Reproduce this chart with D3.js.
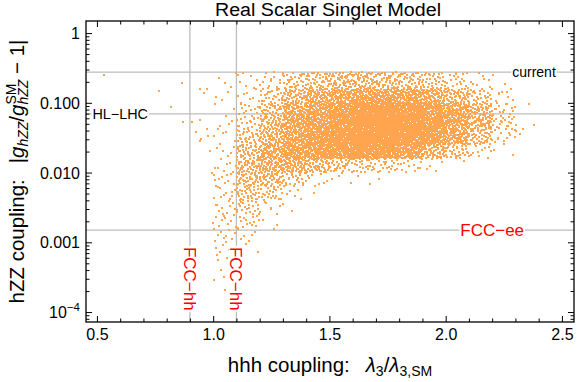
<!DOCTYPE html>
<html><head><meta charset="utf-8">
<script src="https://cdn.jsdelivr.net/npm/d3@7"></script>
<style>
html,body{margin:0;padding:0;background:#fff;}
svg{display:block;font-family:"Liberation Sans",Arial,Helvetica,sans-serif;}
</style></head>
<body>
<svg id="chart" width="581" height="382"></svg>
<script>
// ---------- data ----------
const xTicks = [0.5, 1.0, 1.5, 2.0, 2.5];
const xTickLabels = ["0.5", "1.0", "1.5", "2.0", "2.5"];
const yTicks = [1, 0.1, 0.01, 0.001, 0.0001];
const yTickLabels = ["1", "0.100", "0.010", "0.001", "10^-4"];

const refLinesY = [0.276, 0.0695, 0.0015];       // current, HL-LHC, FCC-ee
const refLinesYNames = ["current", "HL\u2212LHC", "FCC\u2212ee"];
const refLinesX = [0.9, 1.1];                    // FCC-hh
const refLinesXNames = ["FCC\u2212hh", "FCC\u2212hh"];

// density of scan points
// columns: lambda3 bins [start, start+0.1)
const colStart = [1.0, 1.1, 1.2, 1.3, 1.4, 1.5, 1.6, 1.7, 1.8, 1.9, 2.0, 2.1, 2.2, 2.3];
// rows (top -> bottom): log10 |g/gSM - 1| bins
const rowTop =    [-0.56, -0.8, -1.0, -1.2, -1.4, -1.6, -1.8, -2.0, -2.2, -2.4, -2.6, -2.8, -3.0, -3.2, -3.4, -3.6];
const rowBottom = [-0.8, -1.0, -1.2, -1.4, -1.6, -1.8, -2.0, -2.2, -2.4, -2.6, -2.8, -3.0, -3.2, -3.4, -3.6, -3.8];
const counts = [
  [3,3,3,4,5,5,8,10,10,10,10,10,7,5,3,1],
  [7,8,12,20,30,40,45,40,32,22,14,6,2,1,0,0],
  [15,24,35,50,60,70,65,45,22,8,2,1,0,0,0,0],
  [30,48,70,85,95,100,70,25,5,1,0,0,0,0,0,0],
  [42,72,95,115,125,120,50,8,1,0,0,0,0,0,0,0],
  [52,90,125,150,160,140,30,3,0,0,0,0,0,0,0,0],
  [52,100,150,190,200,150,25,2,0,0,0,0,0,0,0,0],
  [48,100,150,200,200,140,20,1,0,0,0,0,0,0,0,0],
  [40,90,140,175,165,105,12,0,0,0,0,0,0,0,0,0],
  [32,75,115,135,125,55,4,0,0,0,0,0,0,0,0,0],
  [18,50,85,95,80,30,1,0,0,0,0,0,0,0,0,0],
  [8,25,50,55,40,10,0,0,0,0,0,0,0,0,0,0],
  [2,6,16,20,11,2,0,0,0,0,0,0,0,0,0,0],
  [0,0,1,2,1,0,0,0,0,0,0,0,0,0,0,0]
];
// isolated points read individually
const outX = [0.531,0.765,0.868,0.820,0.869,0.911,0.944,0.944,0.962,0.973,0.925,0.975,0.979,0.949,0.943,0.986,0.996,1.097,2.045,2.303,2.303,2.264,2.230];
const outY = [0.25,0.146,0.194,0.087,0.053,0.053,0.056,0.16,0.139,0.157,0.038,0.042,0.033,0.030,0.0285,0.0205,0.0097,0.27,0.27,0.048,0.040,0.143,0.138];

// ---------- layout ----------
const L = 86, R = 574, T = 21, B = 322;
const svg = d3.select("#chart");
const x = d3.scaleLinear().domain([0.453, 2.552]).range([L, R]);
const y = d3.scaleLog().domain([7.2e-5, 1.49]).range([B, T]);
const dotColor = "#ffa54f";
const lineColor = "#bdbdbd";

// reference lines
const gl = svg.append("g");
gl.selectAll("line.h").data(refLinesY).enter().append("line")
  .attr("x1", L).attr("x2", R).attr("y1", d => y(d)).attr("y2", d => y(d))
  .attr("stroke", lineColor).attr("stroke-width", 1.3);
gl.selectAll("line.v").data(refLinesX).enter().append("line")
  .attr("y1", T).attr("y2", B).attr("x1", d => x(d)).attr("x2", d => x(d))
  .attr("stroke", lineColor).attr("stroke-width", 1.3);

// points: place counts inside each bin with a deterministic low-discrepancy sequence
function halton(i, b) { let f = 1, r = 0; while (i > 0) { f /= b; r += f * (i % b); i = Math.floor(i / b); } return r; }
const pts = [];
let k = 1;
counts.forEach((col, ci) => {
  col.forEach((n, ri) => {
    for (let j = 0; j < n; j++, k++) {
      const xv = colStart[ci] + 0.1 * halton(k, 2);
      const lv = rowBottom[ri] + (rowTop[ri] - rowBottom[ri]) * halton(k, 3);
      pts.push([xv, Math.pow(10, lv)]);
    }
  });
});
outX.forEach((v, i) => pts.push([v, outY[i]]));

svg.append("g").selectAll("rect").data(pts).enter().append("rect")
  .attr("x", d => Math.round(x(d[0])) - 1)
  .attr("y", d => Math.round(y(d[1])) - 1)
  .attr("width", 2).attr("height", 2)
  .attr("fill", dotColor);

// labels on lines with white backgrounds
function boxedText(g, t) {
  const bb = t.node().getBBox();
  g.insert("rect", "text").attr("x", bb.x - 1).attr("y", bb.y + 2).attr("width", bb.width + 2)
    .attr("height", bb.height - 4).attr("fill", "#fff");
}
let g1 = svg.append("g");
let t1 = g1.append("text").attr("x", x(2.38)).attr("y", y(refLinesY[0])).attr("dy", "0.35em")
  .attr("text-anchor", "middle").attr("font-size", 14).attr("fill", "#000").text(refLinesYNames[0]);
boxedText(g1, t1);
let g2 = svg.append("g");
let t2 = g2.append("text").attr("x", x(0.6)).attr("y", y(refLinesY[1])).attr("dy", "0.35em")
  .attr("text-anchor", "middle").attr("font-size", 14.4).attr("fill", "#000").text(refLinesYNames[1]);
boxedText(g2, t2);
let g3 = svg.append("g");
let t3 = g3.append("text").attr("x", x(2.2)).attr("y", y(refLinesY[2])).attr("dy", "0.35em")
  .attr("text-anchor", "middle").attr("font-size", 17).attr("fill", "#ff0000").text(refLinesYNames[2]);
boxedText(g3, t3);
refLinesX.forEach((v, i) => {
  const g = svg.append("g").attr("transform", `translate(${x(v)},${y(3.0e-4)}) rotate(90)`);
  const t = g.append("text").attr("x", 0).attr("y", 0).attr("dy", "0.35em")
    .attr("text-anchor", "middle").attr("font-size", 17).attr("fill", "#ff0000").text(refLinesXNames[i]);
  boxedText(g, t);
});

// frame
svg.append("rect").attr("x", L).attr("y", T).attr("width", R - L).attr("height", B - T)
  .attr("fill", "none").attr("stroke", "#000").attr("stroke-width", 1.3);

// axes (inward ticks on all sides)
const xMinor = d3.range(5, 26).map(d => d / 10).filter(d => !xTicks.some(t => Math.abs(t - d) < 1e-9));
const yMinor = [];
[-5, -4, -3, -2, -1].forEach(e => { for (let m = 2; m <= 9; m++) { const v = m * Math.pow(10, e); if (v > 7.2e-5 && v < 1.49) yMinor.push(v); } });

function styleAxis(g) { g.select(".domain").remove(); g.selectAll("line").attr("stroke", "#000").attr("stroke-width", 1); }

svg.append("g").attr("transform", `translate(0,${B})`)
  .call(d3.axisBottom(x).tickValues(xTicks).tickSize(-6).tickPadding(7).tickFormat((d, i) => xTickLabels[i]))
  .call(styleAxis).call(g => g.selectAll("text").attr("font-size", 16).attr("fill", "#000").attr("font-family", null));
svg.append("g").attr("transform", `translate(0,${B})`)
  .call(d3.axisBottom(x).tickValues(xMinor).tickSize(-3.5).tickFormat(""))
  .call(styleAxis);
svg.append("g").attr("transform", `translate(0,${T})`)
  .call(d3.axisTop(x).tickValues(xTicks).tickSize(-6).tickFormat(""))
  .call(styleAxis);
svg.append("g").attr("transform", `translate(0,${T})`)
  .call(d3.axisTop(x).tickValues(xMinor).tickSize(-3.5).tickFormat(""))
  .call(styleAxis);

const yAx = svg.append("g").attr("transform", `translate(${L},0)`)
  .call(d3.axisLeft(y).tickValues(yTicks).tickSize(-6).tickPadding(6).tickFormat(""))
  .call(styleAxis);
yAx.selectAll(".tick").each(function (d, i) {
  const lab = yTickLabels[i];
  const t = d3.select(this).append("text").attr("x", -6).attr("dy", "0.35em")
    .attr("text-anchor", "end").attr("font-size", 16).attr("fill", "#000");
  if (lab.indexOf("^") >= 0) {
    const [b, e] = lab.split("^");
    t.append("tspan").text(b);
    t.append("tspan").attr("dy", -7).attr("font-size", 11.5).text(e.replace("-", "\u2212"));
  } else t.text(lab);
});
svg.append("g").attr("transform", `translate(${L},0)`)
  .call(d3.axisLeft(y).tickValues(yMinor).tickSize(-3.5).tickFormat(""))
  .call(styleAxis);
svg.append("g").attr("transform", `translate(${R},0)`)
  .call(d3.axisRight(y).tickValues(yTicks).tickSize(-6).tickFormat(""))
  .call(styleAxis);
svg.append("g").attr("transform", `translate(${R},0)`)
  .call(d3.axisRight(y).tickValues(yMinor).tickSize(-3.5).tickFormat(""))
  .call(styleAxis);

// title
svg.append("text").attr("x", 328).attr("y", 16).attr("text-anchor", "middle")
  .attr("font-size", 18).attr("fill", "#000")
  .attr("textLength", 226).attr("lengthAdjust", "spacingAndGlyphs")
  .text("Real Scalar Singlet Model");

// x label
const xl = svg.append("text").attr("x", 330).attr("y", 372).attr("text-anchor", "middle")
  .attr("font-size", 20.5).attr("fill", "#000");
xl.append("tspan").text("hhh coupling:\u2002 ");
xl.append("tspan").attr("font-style", "italic").text("\u03bb");
xl.append("tspan").attr("font-size", 14).attr("dy", 4).text("3");
xl.append("tspan").attr("dy", -4).text("/");
xl.append("tspan").attr("font-style", "italic").text("\u03bb");
xl.append("tspan").attr("font-size", 14).attr("dy", 4).text("3,SM");

// y label
const yl = svg.append("text").attr("transform", `translate(24,${(T + B) / 2}) rotate(-90)`)
  .attr("text-anchor", "middle").attr("font-size", 20.5).attr("fill", "#000");
yl.append("tspan").text("hZZ coupling:\u2002 |");
yl.append("tspan").attr("font-style", "italic").text("g");
yl.append("tspan").attr("font-size", 14).attr("font-style", "italic").attr("dy", 4).text("hZZ");
yl.append("tspan").attr("dy", -4).text("/");
yl.append("tspan").attr("font-style", "italic").text("g");
const sup = yl.append("tspan").attr("font-size", 14).attr("dy", -8).text("SM");
const supW = sup.node().getComputedTextLength();
yl.append("tspan").attr("font-size", 14).attr("font-style", "italic").attr("dx", -supW).attr("dy", 12).text("hZZ");
yl.append("tspan").attr("dy", -4).text(" \u2212 1|");
</script>
</body></html>
